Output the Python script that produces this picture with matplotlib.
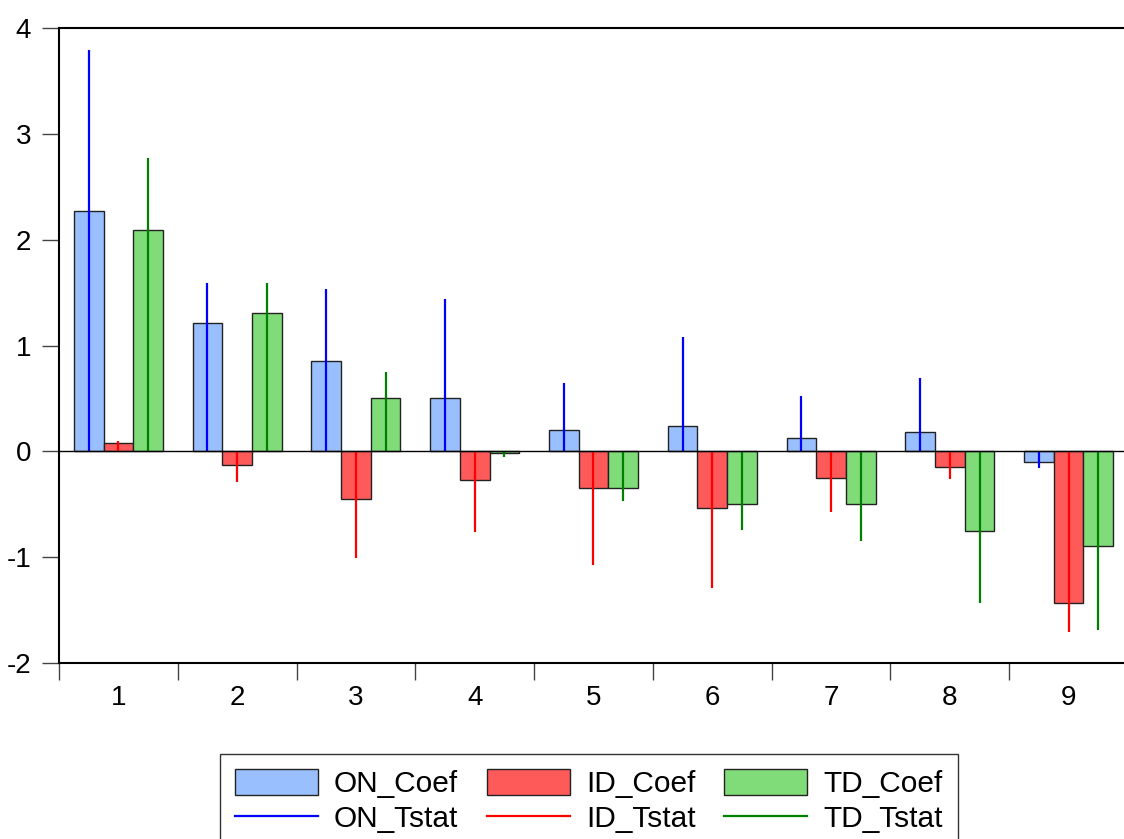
import matplotlib
matplotlib.use("Agg")
import matplotlib.pyplot as plt
import numpy as np
from matplotlib.patches import Patch
from matplotlib.lines import Line2D

plt.rcParams['font.family'] = ['Liberation Sans', 'DejaVu Sans']

lags = [1, 2, 3, 4, 5, 6, 7, 8, 9]

on_coef = [2.27, 1.21, 0.85, 0.50, 0.20, 0.24, 0.13, 0.18, -0.10]
id_coef = [0.08, -0.13, -0.45, -0.27, -0.35, -0.54, -0.25, -0.15, -1.43]
td_coef = [2.09, 1.31, 0.50, -0.02, -0.35, -0.50, -0.50, -0.75, -0.89]

on_tstat = [3.79, 1.59, 1.53, 1.44, 0.65, 1.08, 0.52, 0.69, -0.16]
id_tstat = [0.10, -0.29, -1.01, -0.76, -1.07, -1.29, -0.57, -0.26, -1.71]
td_tstat = [2.77, 1.59, 0.75, -0.05, -0.47, -0.74, -0.85, -1.43, -1.69]

bar_colors = ['#99bfff', '#ff5a5a', '#80dc78']
line_colors = ['#0000ff', '#ff0000', '#008000']
names = ['ON', 'ID', 'TD']

fig = plt.figure(figsize=(11.24, 8.39), dpi=100)
ax = fig.add_axes([59 / 1124, 1 - 663 / 839, (1128 - 59) / 1124, (663 - 28) / 839])

x = np.array(lags, dtype=float)
w = 0.25
coefs = [on_coef, id_coef, td_coef]
tstats = [on_tstat, id_tstat, td_tstat]

for i in range(3):
    pos = x + (i - 1) * w
    ax.bar(pos, coefs[i], width=w, color=bar_colors[i],
           edgecolor='#222222', linewidth=1.0, zorder=2)
    ax.vlines(pos, 0, tstats[i], colors=line_colors[i], linewidth=1.6, zorder=3)

ax.axhline(0, color='black', linewidth=1.0, zorder=4)

ax.set_xlim(0.5, 9.5)
ax.set_ylim(-2, 4)
ax.set_yticks([-2, -1, 0, 1, 2, 3, 4])
ax.set_yticklabels(['-2', '-1', '0', '1', '2', '3', '4'])

ax.set_xticks(x)
ax.set_xticklabels([str(l) for l in lags])
ax.set_xticks(np.arange(0.5, 9.6, 1.0), minor=True)
ax.tick_params(axis='x', which='major', length=0, pad=16, labelsize=20)
ax.tick_params(axis='x', which='minor', length=12, width=1, color='#444444', direction='out')
ax.tick_params(axis='y', length=12, width=1, color='#444444', pad=8, labelsize=20)

for s in ['left', 'top', 'bottom']:
    ax.spines[s].set_linewidth(1.5)
    ax.spines[s].set_color('black')
ax.spines['right'].set_visible(False)

# legend, filled column by column
handles = []
labels = []
for i in range(3):
    handles.append(Patch(facecolor=bar_colors[i], edgecolor='#222222', linewidth=1.0))
    labels.append(names[i] + '_Coef')
    handles.append(Line2D([0], [0], color=line_colors[i], linewidth=1.6))
    labels.append(names[i] + '_Tstat')

leg = fig.legend(handles, labels, ncol=3, loc='upper left',
                 bbox_to_anchor=(220 / 1124, 1 - 754 / 839),
                 frameon=True, fancybox=False, fontsize=21.5,
                 handlelength=2.78, handleheight=0.95, handletextpad=0.54,
                 columnspacing=0.95, labelspacing=0.2, borderpad=0.5,
                 borderaxespad=0)
leg.get_frame().set_edgecolor('black')
leg.get_frame().set_linewidth(1.0)

fig.savefig('out.png', dpi=100)
